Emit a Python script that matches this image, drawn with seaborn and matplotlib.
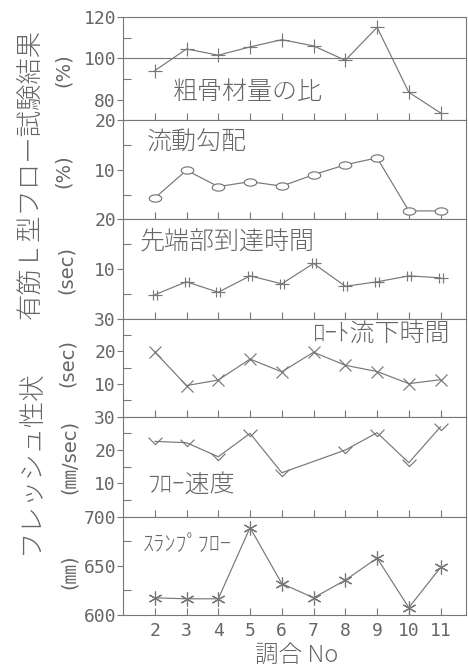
import numpy as np
import matplotlib
matplotlib.use("Agg")
import matplotlib.pyplot as plt
from matplotlib.path import Path
import seaborn as sns

# ---- data -------------------------------------------------------------
mix_no = [2, 3, 4, 5, 6, 7, 8, 9, 10, 11]
coarse_ratio = [94, 104.5, 101.5, 105.5, 109, 106, 99, 115, 83.5, 73.5]      # %
flow_gradient = [4.3, 9.9, 6.6, 7.6, 6.7, 9.0, 11.0, 12.4, 1.7, 1.7]         # %
tip_arrival = [4.8, 7.4, 5.3, 8.6, 7.0, 11.1, 6.5, 7.4, 8.6, 8.2]            # sec
funnel_time = [19.8, 9.5, 11.2, 17.6, 13.7, 19.7, 15.7, 13.8, 10.1, 11.3]    # sec
speed_no = [2, 3, 4, 5, 6, 8, 9, 10, 11]
flow_speed = [22.6, 22.2, 18.0, 25.0, 13.2, 20.0, 25.2, 16.2, 27.0]          # mm/sec
slump_flow = [617.5, 616.5, 616.5, 689, 632, 617.5, 635.5, 658, 607.5, 648.5]  # mm

panel_titles = ["粗骨材量の比", "流動勾配", "先端部到達時間",
                "ﾛｰﾄ流下時間", "ﾌﾛｰ速度", "ｽﾗﾝﾌﾟﾌﾛｰ"]
unit_labels = ["(%)", "(%)", "(sec)", "(sec)", "(㎜/sec)", "(㎜)"]
group_upper = "有筋Ｌ型フロー試験結果"
group_lower = "フレッシュ性状"
x_label = "調合 No"

# ---- style ------------------------------------------------------------
sns.set_theme(style="white")
plt.rcParams["font.family"] = ["Noto Sans CJK JP", "DejaVu Sans"]
INK = "#666666"
LINE = "#777777"
CJK_WEIGHT = "light"

# custom markers
t = np.linspace(0, 2 * np.pi, 40)
ellipse = Path(np.column_stack([np.cos(t), 0.58 * np.sin(t)]), closed=True)
double_hash = Path(
    [(-1, 0), (1, 0), (-0.35, -0.75), (-0.35, 0.75), (0.35, -0.75), (0.35, 0.75)],
    [Path.MOVETO, Path.LINETO, Path.MOVETO, Path.LINETO, Path.MOVETO, Path.LINETO])
chevron = Path([(-1, 0.55), (0, -0.45), (1, 0.55)],
               [Path.MOVETO, Path.LINETO, Path.LINETO])

fig = plt.figure(figsize=(4.68, 6.69), dpi=100)
axes = fig.subplots(6, 1, sharex=True,
                    gridspec_kw=dict(hspace=0,
                                     height_ratios=[1.03, 0.99, 0.99, 0.98, 1.0, 0.98]))
fig.subplots_adjust(left=123 / 468, right=466 / 468,
                    top=1 - 17 / 669, bottom=1 - 615 / 669)

series = [
    (mix_no, coarse_ratio, "+", 10, "none"),
    (mix_no, flow_gradient, ellipse, 9, "white"),
    (mix_no, tip_arrival, double_hash, 10, "none"),
    (mix_no, funnel_time, "x", 8, "none"),
    (speed_no, flow_speed, chevron, 10, "none"),
    (mix_no, slump_flow, (6, 2, 0), 10, "none"),
]
ylims = [(70, 120), (0, 20), (0, 20), (0, 30), (0, 30), (600, 700)]
major = [[80, 100, 120], [10, 20], [10, 20], [10, 20, 30], [10, 20, 30], [600, 650, 700]]
minor = [[90, 110], [5, 15], [5, 15], [5, 15, 25], [5, 15, 25], [625, 675]]

title_pos = [(0.146, 0.28, "left", 18), (0.07, 0.78, "left", 18),
             (0.05, 0.78, "left", 18), (0.953, 0.835, "right", 18),
             (0.07, 0.31, "left", 18), (0.058, 0.71, "left", 16)]

for i, ax in enumerate(axes):
    xs, ys, mk, ms, mfc = series[i]
    sns.lineplot(x=xs, y=ys, ax=ax, color=LINE, linewidth=0.85,
                 marker=mk, markersize=ms, markeredgecolor=LINE,
                 markerfacecolor=mfc, markeredgewidth=0.85)
    ax.set_ylim(*ylims[i])
    ax.set_xlim(1, 11.8)
    ax.set_yticks(major[i], labels=[str(v) for v in major[i]],
                  fontfamily="DejaVu Sans Mono", fontsize=13, color=INK)
    ax.set_yticks(minor[i], minor=True)
    ax.tick_params(axis="y", which="major", direction="out", length=4,
                   width=0.8, color=LINE, pad=1, left=True)
    ax.tick_params(axis="y", which="minor", direction="in", length=6,
                   width=0.8, color=LINE, left=True)
    ax.tick_params(axis="x", which="major", direction="in", length=5,
                   width=0.8, color=LINE, bottom=True, pad=5)
    for sp in ax.spines.values():
        sp.set_color(LINE)
        sp.set_linewidth(0.8)
    ax.set_ylabel("")
    tx, ty, ha, fs = title_pos[i]
    ax.text(tx, ty, panel_titles[i], transform=ax.transAxes, ha=ha,
            va="center", fontsize=fs, color=INK, fontweight=CJK_WEIGHT)

axes[0].axhline(100, color=LINE, linewidth=0.8)

axes[-1].set_xticks(mix_no, labels=[str(v) for v in mix_no],
                    fontfamily="DejaVu Sans Mono", fontsize=13, color=INK)
axes[-1].tick_params(axis="x", labelbottom=True)

# unit labels
unit_pos = [(63, 70), (63, 171), (66, 270), (67, 363), (69, 457), (69, 572)]
for (px, py), txt in zip(unit_pos, unit_labels):
    fig.text(px / 468, 1 - py / 669, txt, rotation=90, ha="center", va="center",
             fontsize=14, color=INK, family=["DejaVu Sans", "Noto Sans CJK JP"])

# group labels
fig.text(30 / 468, 1 - 174 / 669, group_upper, rotation=90, ha="center",
         va="center", fontsize=19, color=INK, fontweight=CJK_WEIGHT)
fig.text(30 / 468, 1 - 462 / 669, group_lower, rotation=90, ha="center",
         va="center", fontsize=19, color=INK, fontweight=CJK_WEIGHT)

fig.text(297 / 468, 1 - 655 / 669, x_label, ha="center", va="center",
         fontsize=17, color=INK, fontweight=CJK_WEIGHT)

fig.savefig("out.png", dpi=100, facecolor="white")
